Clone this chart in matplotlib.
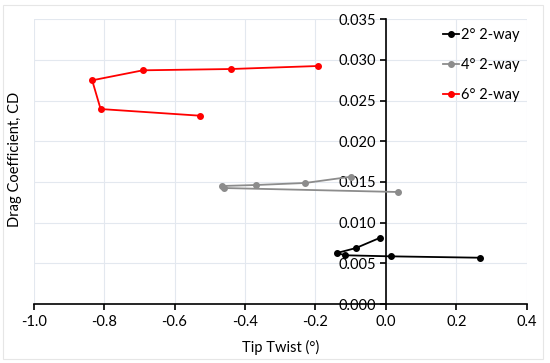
import matplotlib
matplotlib.use("Agg")
import matplotlib.pyplot as plt
from matplotlib.patches import Rectangle

plt.rcParams['font.family'] = ['Lato', 'DejaVu Sans']

labels = ["2° 2-way", "4° 2-way", "6° 2-way"]
colors = ["#000000", "#8c8c8c", "#ff0000"]

twist_2 = [0.268, 0.014, -0.115, -0.139, -0.085, -0.016]
cd_2 = [0.00569, 0.00586, 0.00599, 0.00627, 0.00688, 0.00815]

twist_4 = [0.035, -0.460, -0.466, -0.369, -0.229, -0.099]
cd_4 = [0.01377, 0.01426, 0.01451, 0.01463, 0.01488, 0.01565]

twist_6 = [-0.528, -0.810, -0.834, -0.690, -0.440, -0.193]
cd_6 = [0.02315, 0.02397, 0.02750, 0.02873, 0.02889, 0.02926]

x_ticks = [-1.0, -0.8, -0.6, -0.4, -0.2, 0.0, 0.2, 0.4]
y_ticks = [0.000, 0.005, 0.010, 0.015, 0.020, 0.025, 0.030, 0.035]

fig = plt.figure(figsize=(5.5, 3.63), dpi=100)
ax = fig.add_axes([0.0613, 0.1625, 0.8963, 0.7843])

series = [(twist_2, cd_2), (twist_4, cd_4), (twist_6, cd_6)]
handles = []
for (xs, ys), lab, c in zip(series, labels, colors):
    h, = ax.plot(xs, ys, color=c, lw=1.3, marker='o', ms=4, label=lab, zorder=3)
    handles.append(h)

ax.set_xlim(-1.0, 0.4)
ax.set_ylim(0.0, 0.035)
ax.set_xticks(x_ticks)
ax.set_yticks(y_ticks)
ax.set_xticklabels([f"{v:.1f}" for v in x_ticks])
ax.set_yticklabels([f"{v:.3f}" for v in y_ticks])

ax.grid(True, color="#e3e8ef", lw=0.8, zorder=0)
ax.set_axisbelow(True)

ax.spines['left'].set_position(('data', 0.0))
ax.spines['bottom'].set_position(('data', 0.0))
ax.spines['top'].set_visible(False)
ax.spines['right'].set_visible(False)
for s in ['left', 'bottom']:
    ax.spines[s].set_color('black')
    ax.spines[s].set_linewidth(1.2)
    ax.spines[s].set_zorder(2.5)

ax.tick_params(axis='both', direction='out', length=4, width=1.2, labelsize=10.5, colors='black')
ax.tick_params(axis='y', pad=3)
ax.tick_params(axis='x', pad=4)

fig.text(0.028, 0.5606, "Drag Coefficient, CD", rotation=90, ha='center', va='center', fontsize=10.5)
fig.text(0.5095, 0.044, "Tip Twist (°)", ha='center', va='center', fontsize=10.5)

leg = fig.legend(handles=handles, labels=labels, loc='upper right',
                 bbox_to_anchor=(0.955, 0.938), frameon=False, fontsize=10.5,
                 handlelength=1.1, handletextpad=0.15, labelspacing=1.1,
                 borderaxespad=0)

fig.patches.append(Rectangle((0.006, 0.01), 0.982, 0.975, transform=fig.transFigure,
                             fill=False, edgecolor="#e6e6e6", lw=0.8))

fig.savefig("out.png", dpi=100)
